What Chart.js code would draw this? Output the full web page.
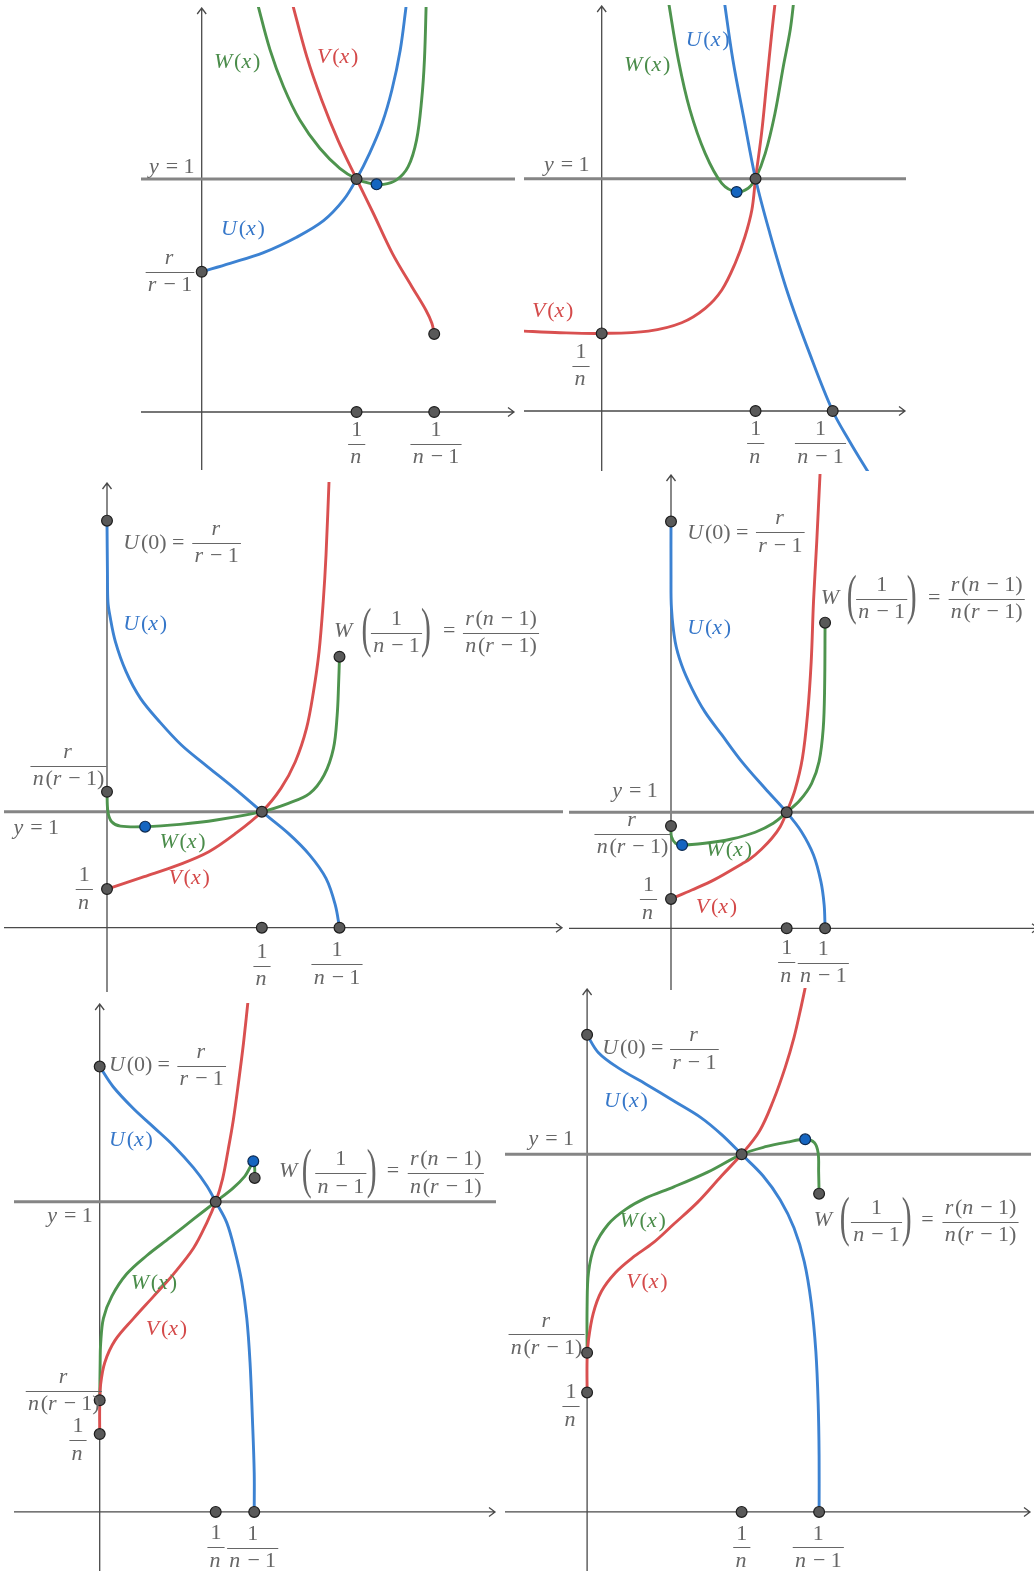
<!DOCTYPE html>
<html><head><meta charset="utf-8">
<script src="https://cdn.jsdelivr.net/npm/chart.js@4.4.1/dist/chart.umd.min.js"></script>
<style>
html,body{margin:0;padding:0;background:#fff;}
body{position:relative;width:1034px;height:1571px;overflow:hidden;}
canvas{position:absolute;}
</style></head><body>
<script>
// ---------------- DATA (x in units where 1/n sits at 1/n, y = 1 is the reference line) -------------
const Y_REF = 1;

// Panel 1 (n = 3)
const p1U = [[0,0.602],[0.061,0.638],[0.133,0.684],[0.204,0.750],[0.262,0.821],[0.305,0.910],[0.333,1.0],[0.361,1.110],[0.388,1.239],[0.409,1.382],[0.427,1.554],[0.439,1.732],[0.441,1.768]];
const p1V = [[0.193,1.768],[0.226,1.525],[0.258,1.339],[0.293,1.167],[0.333,1.0],[0.369,0.853],[0.410,0.681],[0.452,0.538],[0.482,0.438],[0.495,0.381],[0.5,0.335]];
const p1W = [[0.118,1.768],[0.147,1.554],[0.176,1.396],[0.211,1.253],[0.254,1.132],[0.297,1.046],[0.333,1.0],[0.362,0.981],[0.391,0.977],[0.419,0.996],[0.444,1.053],[0.462,1.167],[0.473,1.339],[0.479,1.511],[0.483,1.768]];
const p1Dots = [[0.333,1],[0,0.602],[0.5,0.335],[0.333,0],[0.5,0]];
const p1Blue = [[0.376,0.977]];

// Panel 2 (n = 3)
const p2U = [[0.265,1.769],[0.284,1.511],[0.307,1.267],[0.333,1.0],[0.364,0.765],[0.403,0.506],[0.450,0.248],[0.5,0],[0.537,-0.132],[0.574,-0.254],[0.581,-0.275]];
const p2V = [[-0.18,0.345],[-0.09,0.337],[0,0.334],[0.101,0.344],[0.173,0.380],[0.224,0.442],[0.260,0.521],[0.289,0.636],[0.310,0.750],[0.325,0.865],[0.333,1.0],[0.346,1.195],[0.357,1.410],[0.368,1.626],[0.376,1.769]];
const p2W = [[0.144,1.769],[0.166,1.511],[0.191,1.296],[0.224,1.109],[0.260,0.980],[0.292,0.943],[0.317,0.959],[0.333,1.0],[0.354,1.109],[0.375,1.281],[0.393,1.482],[0.408,1.640],[0.416,1.769]];
const p2Dots = [[0.333,1],[0,0.334],[0.333,0],[0.5,0]];
const p2Blue = [[0.292,0.943]];

// Panel 3 (n = 3)
const p3U = [[0,3.509],[0.001,3.040],[0.002,2.810],[0.006,2.695],[0.018,2.466],[0.041,2.207],[0.072,1.977],[0.113,1.776],[0.160,1.575],[0.212,1.402],[0.274,1.201],[0.333,1.0],[0.390,0.813],[0.436,0.626],[0.471,0.425],[0.491,0.195],[0.5,0]];
const p3V = [[0,0.333],[0.080,0.440],[0.157,0.546],[0.219,0.655],[0.274,0.805],[0.333,1.0],[0.374,1.201],[0.405,1.431],[0.429,1.718],[0.444,2.034],[0.456,2.379],[0.465,2.810],[0.471,3.213],[0.478,3.902]];
const p3W = [[0,1.172],[0.002,1.0],[0.010,0.914],[0.029,0.876],[0.082,0.871],[0.157,0.891],[0.235,0.928],[0.333,1.0],[0.390,1.072],[0.436,1.158],[0.467,1.316],[0.487,1.546],[0.495,1.833],[0.498,2.092],[0.5,2.336]];
const p3Dots = [[0,3.509],[0,1.172],[0,0.333],[0.333,1],[0.5,2.336],[0.333,0],[0.5,0]];
const p3Blue = [[0.082,0.871]];

// Panel 4 (n = 4)
const p4U = [[0,3.506],[0,3.046],[0.001,2.759],[0.009,2.471],[0.023,2.270],[0.045,2.069],[0.073,1.868],[0.110,1.667],[0.153,1.437],[0.203,1.207],[0.25,1.0],[0.282,0.833],[0.308,0.632],[0.324,0.402],[0.331,0.201],[0.333,0]];
const p4V = [[0,0.253],[0.045,0.330],[0.095,0.422],[0.153,0.555],[0.171,0.598],[0.196,0.684],[0.218,0.776],[0.236,0.876],[0.25,1.0],[0.268,1.193],[0.284,1.466],[0.295,1.839],[0.303,2.299],[0.308,2.816],[0.315,3.333],[0.322,3.908],[0.323,3.966]];
const p4W = [[0,0.882],[0.001,0.790],[0.010,0.733],[0.024,0.718],[0.073,0.733],[0.131,0.770],[0.182,0.828],[0.221,0.905],[0.25,1.0],[0.279,1.106],[0.304,1.250],[0.320,1.437],[0.329,1.724],[0.332,2.069],[0.333,2.635]];
const p4Dots = [[0,3.506],[0,0.882],[0,0.253],[0.25,1],[0.333,2.635],[0.25,0],[0.333,0]];
const p4Blue = [[0.024,0.718]];

// Panel 5 (n = 4)
const p5U = [[0,1.436],[0.029,1.371],[0.073,1.300],[0.116,1.241],[0.159,1.181],[0.202,1.110],[0.231,1.051],[0.25,1.0],[0.274,0.932],[0.292,0.838],[0.306,0.743],[0.317,0.624],[0.324,0.482],[0.329,0.305],[0.333,0.127],[0.333,0]];
const p5V = [[0,0.251],[0,0.340],[0.002,0.411],[0.011,0.482],[0.033,0.553],[0.073,0.624],[0.116,0.695],[0.159,0.767],[0.202,0.850],[0.231,0.933],[0.25,1.0],[0.265,1.075],[0.277,1.169],[0.288,1.264],[0.299,1.383],[0.310,1.513],[0.321,1.667]];
const p5W = [[0,0.360],[0.001,0.482],[0.002,0.541],[0.008,0.624],[0.026,0.695],[0.058,0.767],[0.101,0.826],[0.152,0.885],[0.202,0.944],[0.25,1.0],[0.288,1.045],[0.313,1.083],[0.325,1.114],[0.331,1.131],[0.334,1.110],[0.334,1.077]];
const p5Dots = [[0,1.436],[0,0.360],[0,0.251],[0.25,1],[0.334,1.077],[0.25,0],[0.333,0]];
const p5Blue = [[0.331,1.131]];

// Panel 6 (n = 3)
const p6U = [[0,1.334],[0.024,1.285],[0.068,1.241],[0.127,1.196],[0.187,1.149],[0.246,1.102],[0.290,1.055],[0.333,1.0],[0.379,0.940],[0.416,0.873],[0.446,0.794],[0.468,0.700],[0.483,0.585],[0.493,0.449],[0.498,0.303],[0.5,0.157],[0.5,0]];
const p6V = [[0,0.334],[0,0.428],[0.003,0.481],[0.013,0.554],[0.031,0.617],[0.061,0.669],[0.098,0.711],[0.142,0.752],[0.187,0.805],[0.239,0.867],[0.290,0.940],[0.333,1.0],[0.372,1.066],[0.401,1.149],[0.427,1.243],[0.446,1.327],[0.461,1.411],[0.473,1.484]];
const p6W = [[0,0.445],[0,0.575],[0.003,0.669],[0.016,0.742],[0.046,0.805],[0.083,0.846],[0.127,0.878],[0.187,0.909],[0.261,0.951],[0.333,1.0],[0.387,1.022],[0.431,1.034],[0.470,1.042],[0.490,1.032],[0.498,1.003],[0.499,0.951],[0.5,0.890]];
const p6Dots = [[0,1.334],[0,0.445],[0,0.334],[0.333,1],[0.5,0.890],[0.333,0],[0.5,0]];
const p6Blue = [[0.470,1.042]];

// ---------------- STYLE ----------------
const BLUE = '#3c82d2', RED = '#d95050', GREEN = '#4e944e';
const BLUE_T = '#3677c9', RED_T = '#d44a4a', GREEN_T = '#4a8c4a', GRAY_T = '#666666';
const AXIS_COLOR = '#4a4a4a', REF_COLOR = '#858585';
const DOT_FILL = '#595959', DOT_EDGE = '#1e1e1e', BDOT_FILL = '#1565c0', BDOT_EDGE = '#0d2a50';
const FONT_FAMILY = '"Liberation Serif","DejaVu Serif",serif';
const FS = 22;

// ---------------- LAYOUT (page pixels) ----------------
const LAYOUT = [
  {box:[141,7,516,470],   origin:[201.7,412],   k:[465,233]},
  {box:[524,5,907,471],   origin:[601.7,411],   k:[462,232.3]},
  {box:[4,482,564,992],   origin:[107,927.7],   k:[465,116]},
  {box:[569,474,1040,990],origin:[671,928.3],   k:[462.7,116]},
  {box:[14,1003,497,1571],origin:[99.7,1511.9], k:[464,310.1]},
  {box:[505,988,1032,1571],origin:[587.1,1511.9],k:[464,357.6]}
];

// labels: ['m', text, left, centerY, color] | ['f', num, den, centerX, barY] | ['p', char, centerX, centerY]
const LABELS = [
  [['m','W(x)',214,62.5,GREEN_T],['m','V(x)',317,57.5,RED_T],['m','U(x)',221,229,BLUE_T],['m','y = 1',149,167],
   ['f','r','r − 1',170,271.5],['f','1','n',356.7,443.5],['f','1','n − 1',436,444]],
  [['m','U(x)',685.7,40,BLUE_T],['m','W(x)',624,65,GREEN_T],['m','y = 1',544,165],['m','V(x)',532,311,RED_T],
   ['f','1','n',581,366],['f','1','n',755.7,443.3],['f','1','n − 1',820.5,443.3]],
  [['m','U(0) =',123.3,543.3],['f','r','r − 1',216.6,542.7],['m','U(x)',123.3,624.2,BLUE_T],
   ['m','W',334,631.7],['p','(',366.5,632.7],['f','1','n − 1',396.5,632.7],['p',')',426,632.7],['m','=',443,631.7],['f','r(n − 1)','n(r − 1)',501,632.7],
   ['f','r','n(r − 1)',68.5,765.7],['m','y = 1',13.4,828.3],['m','W(x)',159.4,842,GREEN_T],['m','V(x)',168.4,878.3,RED_T],
   ['f','1','n',84.3,889.3],['f','1','n',262,965.5],['f','1','n − 1',337,964.3]],
  [['m','U(0) =',687.3,533.3],['f','r','r − 1',780.3,532.3],['m','U(x)',687.3,628.3,BLUE_T],
   ['m','W',820.7,598.3],['p','(',851.7,599],['f','1','n − 1',881.7,599],['p',')',911.7,599],['m','=',928,598.3],['f','r(n − 1)','n(r − 1)',986.7,599],
   ['m','y = 1',612.3,791.7],['f','r','n(r − 1)',632.5,834],['m','W(x)',705.7,850,GREEN_T],['f','1','n',648.5,899.3],['m','V(x)',695.7,907.5,RED_T],
   ['f','1','n',786.7,962.3],['f','1','n − 1',823.3,963]],
  [['m','U(0) =',109,1064.8],['f','r','r − 1',201.7,1065.9],['m','U(x)',109,1140.7,BLUE_T],
   ['m','W',279,1171.3],['p','(',306.7,1173.2],['f','1','n − 1',340.8,1173.2],['p',')',371.7,1173.2],['m','=',386.7,1171.3],['f','r(n − 1)','n(r − 1)',445.8,1173.2],
   ['m','y = 1',47.3,1216.4],['m','W(x)',130.7,1283.4,GREEN_T],['m','V(x)',145.7,1329.3,RED_T],
   ['f','r','n(r − 1)',63.8,1390.7],['f','1','n',78,1440.3],['f','1','n',216,1547.2],['f','1','n − 1',252.7,1548]],
  [['m','U(0) =',602.3,1048.5],['f','r','r − 1',694.4,1049.3],['m','U(x)',604,1101.6,BLUE_T],['m','y = 1',528.4,1138.9],
   ['m','W',813.7,1220.4],['p','(',844.8,1221.6],['f','1','n − 1',876.5,1221.6],['p',')',906.7,1221.6],['m','=',921.3,1220.4],['f','r(n − 1)','n(r − 1)',980.5,1221.6],
   ['m','W(x)',619.5,1221.6,GREEN_T],['m','V(x)',626.3,1282.3,RED_T],
   ['f','r','n(r − 1)',546.6,1334.4],['f','1','n',571,1406.2],['f','1','n',741.8,1547.4],['f','1','n − 1',818.3,1547.4]]
];

const SERIES = [
  {U:p1U,V:p1V,W:p1W,dots:p1Dots,blue:p1Blue},
  {U:p2U,V:p2V,W:p2W,dots:p2Dots,blue:p2Blue},
  {U:p3U,V:p3V,W:p3W,dots:p3Dots,blue:p3Blue},
  {U:p4U,V:p4V,W:p4W,dots:p4Dots,blue:p4Blue},
  {U:p5U,V:p5V,W:p5W,dots:p5Dots,blue:p5Blue},
  {U:p6U,V:p6V,W:p6W,dots:p6Dots,blue:p6Blue}
];

// ---------------- math text helpers ----------------
function setFont(ctx, italic, size){ ctx.font = (italic ? 'italic ' : '') + size + 'px ' + FONT_FAMILY; }
function tokens(ctx, s, size){
  const out = [];
  for (const ch of s){
    if (ch === ' '){ out.push({ch:null, w:size*0.24}); continue; }
    const it = /[A-Za-z]/.test(ch);
    setFont(ctx, it, size);
    let w = ctx.measureText(ch).width;
    if (it) w += size*0.08;
    out.push({ch, it, w});
  }
  return out;
}
function mathWidth(ctx, s, size){ return tokens(ctx, s, size).reduce((a,t)=>a+t.w, 0); }
function drawMath(ctx, s, x, cy, color, align, size){
  const tk = tokens(ctx, s, size);
  const w = tk.reduce((a,t)=>a+t.w, 0);
  let cx = align === 'c' ? x - w/2 : x;
  ctx.fillStyle = color; ctx.textAlign = 'left'; ctx.textBaseline = 'middle';
  for (const t of tk){ if (t.ch){ setFont(ctx, t.it, size); ctx.fillText(t.ch, cx, cy); } cx += t.w; }
}
function drawFrac(ctx, num, den, cx, by, color, size){
  const w = Math.max(mathWidth(ctx, num, size), mathWidth(ctx, den, size)) + size*0.2;
  drawMath(ctx, num, cx, by - size*0.62, color, 'c', size);
  drawMath(ctx, den, cx, by + size*0.62, color, 'c', size);
  ctx.strokeStyle = color; ctx.lineWidth = 1;
  ctx.beginPath(); ctx.moveTo(cx - w/2, Math.round(by)+0.5); ctx.lineTo(cx + w/2, Math.round(by)+0.5); ctx.stroke();
}
function drawParen(ctx, ch, cx, cy, color, h){
  ctx.save(); ctx.translate(cx, cy); ctx.scale(0.55, 1);
  ctx.font = h + 'px ' + FONT_FAMILY; ctx.fillStyle = color;
  ctx.textAlign = 'center'; ctx.textBaseline = 'alphabetic';
  ctx.fillText(ch, 0, h*0.25); ctx.restore();
}

// ---------------- plugin: axes, reference line, labels ----------------
const decor = {
  id: 'decor',
  beforeDatasetsDraw(chart){
    const {ctx, chartArea:a, scales:{x, y}} = chart;
    const x0 = x.getPixelForValue(0), y0 = y.getPixelForValue(0), y1 = y.getPixelForValue(Y_REF);
    ctx.save();
    ctx.strokeStyle = AXIS_COLOR; ctx.lineWidth = 1.3;
    const xr = a.right - 2;
    ctx.beginPath(); ctx.moveTo(a.left, y0); ctx.lineTo(xr, y0);
    ctx.moveTo(xr-6, y0-4.5); ctx.lineTo(xr, y0); ctx.lineTo(xr-6, y0+4.5); ctx.stroke();
    const yt = a.top + 1;
    ctx.beginPath(); ctx.moveTo(x0, a.bottom); ctx.lineTo(x0, yt);
    ctx.moveTo(x0-4.5, yt+6); ctx.lineTo(x0, yt); ctx.lineTo(x0+4.5, yt+6); ctx.stroke();
    ctx.strokeStyle = REF_COLOR; ctx.lineWidth = 3;
    ctx.beginPath(); ctx.moveTo(a.left, y1); ctx.lineTo(a.right-1, y1); ctx.stroke();
    ctx.restore();
  },
  afterDatasetsDraw(chart, args, opts){
    const ctx = chart.ctx;
    const [L, T] = opts.offset;
    ctx.save();
    for (const lb of opts.labels){
      if (lb[0] === 'm') drawMath(ctx, lb[1], lb[2]-L, lb[3]-T, lb[4] || GRAY_T, 'l', FS);
      else if (lb[0] === 'f') drawFrac(ctx, lb[1], lb[2], lb[3]-L, lb[4]-T, GRAY_T, FS);
      else if (lb[0] === 'p') drawParen(ctx, lb[1], lb[2]-L, lb[3]-T, GRAY_T, 54);
    }
    ctx.restore();
  }
};

const toXY = arr => arr.map(p => ({x:p[0], y:p[1]}));
function curve(data, color){
  return {data: toXY(data), showLine:true, borderColor:color, borderWidth:2.9, pointRadius:0, tension:0.35, fill:false, order:1, clip:0};
}
function dots(data, fillC, edgeC){
  return {data: toXY(data), showLine:false, pointRadius:5.4, pointBackgroundColor:fillC, pointBorderColor:edgeC, pointBorderWidth:1.2, order:0, clip:false};
}

LAYOUT.forEach((lay, i) => {
  const [L, T, R, B] = lay.box;
  const cv = document.createElement('canvas');
  cv.width = R - L; cv.height = B - T;
  cv.style.left = L + 'px'; cv.style.top = T + 'px';
  document.body.appendChild(cv);
  const s = SERIES[i];
  new Chart(cv, {
    type: 'scatter',
    data: {datasets: [
      curve(s.U, BLUE), curve(s.V, RED), curve(s.W, GREEN),
      dots(s.dots, DOT_FILL, DOT_EDGE), dots(s.blue, BDOT_FILL, BDOT_EDGE)
    ]},
    options: {
      responsive: false, animation: false, events: [],
      layout: {padding: 0, autoPadding: false},
      plugins: {legend:{display:false}, tooltip:{enabled:false}, decor:{labels: LABELS[i], offset:[L, T]}},
      scales: {
        x: {type:'linear', display:false, min:(L - lay.origin[0])/lay.k[0], max:(R - lay.origin[0])/lay.k[0]},
        y: {type:'linear', display:false, min:(lay.origin[1] - B)/lay.k[1], max:(lay.origin[1] - T)/lay.k[1]}
      }
    },
    plugins: [decor]
  });
});
</script>
</body></html>
